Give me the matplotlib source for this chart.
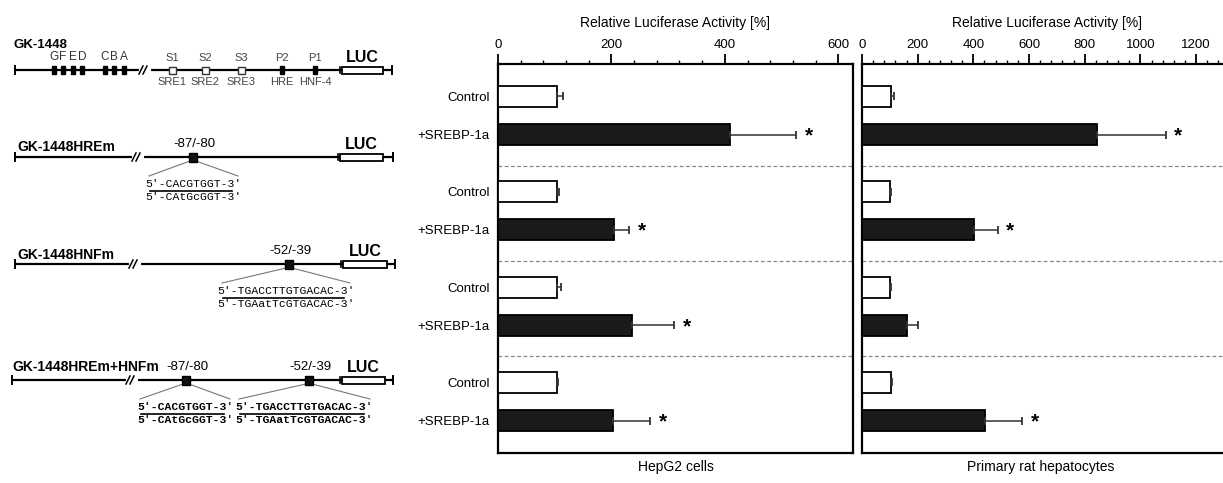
import matplotlib.pyplot as plt
from matplotlib.patches import Rectangle
from matplotlib.ticker import MultipleLocator

plt.rcParams['font.family'] = ['Liberation Sans', 'DejaVu Sans']
MONO = ['Liberation Mono', 'DejaVu Sans Mono']

W, H = 1223, 483

# bar chart data
rows = ['Control', '+SREBP-1a'] * 4
hepg2_vals = [104, 409, 104, 204, 104, 236, 104, 202]
hepg2_err = [11, 117, 4, 27, 7, 75, 2, 66]
hepg2_sig = [False, True, False, True, False, True, False, True]
hep_vals = [103, 843, 101, 402, 100, 163, 103, 442]
hep_err = [13, 248, 3, 85, 4, 39, 4, 134]
hep_sig = [False, True, False, True, False, False, False, True]
xlabel = 'Relative Luciferase Activity [%]'
panel_titles = ['HepG2 cells', 'Primary rat hepatocytes']

# promoter constructs
constructs = ['GK-1448', 'GK-1448HREm', 'GK-1448HNFm', 'GK-1448HREm+HNFm']
distal_sites = ['G', 'F', 'E', 'D', 'C', 'B', 'A']
proximal_sites = ['S1', 'S2', 'S3', 'P2', 'P1']
proximal_names = ['SRE1', 'SRE2', 'SRE3', 'HRE', 'HNF-4']
hre_pos, hre_wt, hre_mut = '-87/-80', "5\u2032-CACGTGGT-3\u2032", "5\u2032-CAtGcGGT-3\u2032"
hnf_pos, hnf_wt, hnf_mut = '-52/-39', "5\u2032-TGACCTTGTGACAC-3\u2032", "5\u2032-TGAatTcGTGACAC-3\u2032"

fig = plt.figure(figsize=(W / 100, H / 100), dpi=100)


def box(l, r, t, b):
    return [l / W, 1 - b / H, (r - l) / W, (b - t) / H]


# ---------------- schematic on the left ----------------
dg = fig.add_axes([0, 0, 1, 1], zorder=0)
dg.set_xlim(0, W)
dg.set_ylim(H, 0)
dg.axis('off')


def backbone(y, x0, brk, luc0, luc1, x1):
    dg.plot([x0, x1], [y, y], color='k', lw=1.6, solid_capstyle='butt')
    for xe in (x0, x1):
        dg.plot([xe, xe], [y - 4, y + 4], color='k', lw=1.4)
    dg.plot([luc0 - 2, luc0 - 2], [y - 3, y + 3], color='k', lw=1.2)
    dg.add_patch(Rectangle((luc0, y - 3.5), luc1 - luc0, 7, fc='white', ec='k', lw=1.3, zorder=3))
    dg.text((luc0 + luc1) / 2, y - 5, 'LUC', ha='center', va='bottom', fontsize=11.5, fontweight='bold')
    # break marks
    dg.plot([brk - 4, brk + 4], [y, y], color='white', lw=3, zorder=3)
    for dx in (-4, 0):
        dg.plot([brk + dx - 2, brk + dx + 2], [y + 4, y - 4], color='k', lw=1.1, zorder=4)


def mutation(xb, y, pos, wt, mut, xl, xr, bold=False):
    dg.add_patch(Rectangle((xb - 4, y - 4.5), 8, 9, fc='#111', ec='k', zorder=4))
    dg.text(xb + 1, y - 7, pos, ha='center', va='bottom', fontsize=9.5)
    xc = (xl + xr) / 2
    dg.plot([xb - 3, xl + 2], [y + 4, y + 19], color='#777', lw=0.8)
    dg.plot([xb + 3, xr - 2], [y + 4, y + 19], color='#777', lw=0.8)
    fw = 'bold' if bold else 'normal'
    dg.text(xc, y + 27, wt, ha='center', va='center', fontsize=8.2, family=MONO, fontweight=fw)
    dg.plot([xl + 3, xr - 8], [y + 33.5, y + 33.5], color='k', lw=1.2)
    dg.text(xc, y + 40, mut, ha='center', va='center', fontsize=8.2, family=MONO, fontweight=fw)


# construct 1
y = 70
backbone(y, 15, 145, 342, 383, 392)
dg.text(14, y - 25, constructs[0], ha='left', va='center', fontsize=9.5, fontweight='bold')
for s, xs in zip(distal_sites, [54, 63, 73, 82, 105, 114, 124]):
    dg.add_patch(Rectangle((xs - 1.6, y - 4), 3.2, 8, fc='k', ec='k', zorder=3))
    dg.text(xs, y - 13, s, ha='center', va='center', fontsize=8.5, color='#333')
for i, (s, nm, xs) in enumerate(zip(proximal_sites, proximal_names, [172, 205, 241, 282, 315])):
    if i < 3:
        dg.add_patch(Rectangle((xs - 3.5, y - 3.5), 7, 7, fc='white', ec='#333', lw=1, zorder=3))
    else:
        dg.add_patch(Rectangle((xs - 1.6, y - 4), 3.2, 8, fc='k', ec='k', zorder=3))
    dg.text(xs, y - 12, s, ha='center', va='center', fontsize=8, color='#444')
    dg.text(xs, y + 12, nm, ha='center', va='center', fontsize=8, color='#444')

# construct 2
y = 157
backbone(y, 15, 138, 340, 383, 393)
dg.text(17, y - 10, constructs[1], ha='left', va='center', fontsize=10, fontweight='bold')
mutation(193, y, hre_pos, hre_wt, hre_mut, 147, 240)

# construct 3
y = 264
backbone(y, 15, 135, 343, 387, 395)
dg.text(17, y - 9, constructs[2], ha='left', va='center', fontsize=10, fontweight='bold')
mutation(289, y, hnf_pos, hnf_wt, hnf_mut, 220, 352)

# construct 4
y = 380
backbone(y, 12, 132, 342, 385, 393)
dg.text(12, y - 13, constructs[3], ha='left', va='center', fontsize=10, fontweight='bold')
mutation(186, y, hre_pos, hre_wt, hre_mut, 138, 232, bold=True)
mutation(309, y, hnf_pos, hnf_wt, hnf_mut, 237, 372, bold=True)

# ---------------- bar panels ----------------
ypos = [g + 0.4 * k for g in range(4) for k in (0, 1)]
seps = [g + 0.725 for g in range(3)]


def panel(ax, vals, errs, sig, xmax, ticks):
    colors = ['white', '#1c1a18'] * 4
    ax.barh(ypos, vals, height=0.22, color=colors, edgecolor='black', linewidth=1.3,
            xerr=[[0] * len(errs), errs],
            error_kw=dict(ecolor='#333', elinewidth=1.1, capsize=3, capthick=1.3), zorder=3)
    for v, e, yy, s in zip(vals, errs, ypos, sig):
        if s:
            ax.annotate('*', (v + e, yy), xytext=(9, -1), textcoords='offset points',
                        ha='center', va='center', fontsize=15, fontweight='bold')
    for s in seps:
        ax.axhline(s, color='#888', lw=0.9, ls=(0, (3, 2)), zorder=1)
    ax.set_xlim(0, xmax)
    ax.set_ylim(3.74, -0.34)
    ax.set_facecolor('none')
    ax.xaxis.tick_top()
    ax.xaxis.set_label_position('top')
    ax.set_xticks(ticks)
    ax.xaxis.set_minor_locator(MultipleLocator(40))
    ax.tick_params(axis='x', which='major', length=7, width=1.3, labelsize=9.5, pad=2)
    ax.tick_params(axis='x', which='minor', length=3, width=1)
    ax.set_xlabel(xlabel, fontsize=10, labelpad=9)
    for sp in ax.spines.values():
        sp.set_linewidth(1.6)


ax1 = fig.add_axes(box(498, 853, 64, 453))
panel(ax1, hepg2_vals, hepg2_err, hepg2_sig, 626, [0, 200, 400, 600])
ax1.set_yticks(ypos)
ax1.set_yticklabels(rows, fontsize=9.5)
ax1.tick_params(axis='y', length=0, pad=6)

ax2 = fig.add_axes(box(862, 1232, 64, 453))
panel(ax2, hep_vals, hep_err, hep_sig, 1329, [0, 200, 400, 600, 800, 1000, 1200])
ax2.set_yticks([])

fig.text(676 / W, 1 - 467 / H, panel_titles[0], ha='center', va='center', fontsize=10)
fig.text(1041 / W, 1 - 467 / H, panel_titles[1], ha='center', va='center', fontsize=10)

fig.savefig('out.png', dpi=100)
